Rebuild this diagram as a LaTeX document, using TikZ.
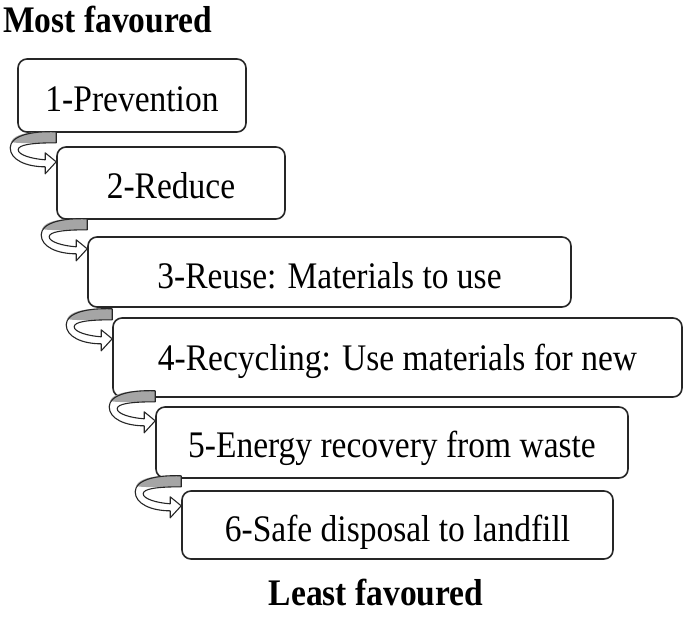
\documentclass[tikz,border=0pt]{standalone}
\usepackage{fontspec}
\setmainfont{Liberation Serif}
\usetikzlibrary{calc}
\definecolor{ribbon}{RGB}{165,165,165}
\newcommand{\tallertext}[1]{\scalebox{1}[1.12]{#1}}
\tikzset{
  stepbox/.style={draw=black!85, line width=1.6pt, rounded corners=9pt, rectangle, inner sep=0pt, fill=white},
  steptext/.style={anchor=base, inner sep=0pt, font=\fontsize{33.5}{40}\selectfont},
  headtext/.style={inner sep=0pt, font=\fontsize{33.5}{40}\selectfont\bfseries},
  uturn/.pic={
    \fill[ribbon] (0,0) .. controls (-25,-1) and (-42,2) .. (-45,10)
                  .. controls (-40,12) and (-25,11) .. (0,11) -- cycle;
    \draw[line width=1.1pt, line join=round, black!85]
      (0,0) .. controls (-25,-1) and (-46,4) .. (-46,16)
      .. controls (-46,28) and (-30,35) .. (-11,35)
      -- (-11,42) -- (0,30) -- (-11,21) -- (-11,28)
      .. controls (-25,27) and (-38,23) .. (-38,18)
      .. controls (-38,13) and (-25,11) .. (0,11) -- cycle;
  }
}
\begin{document}
\begin{tikzpicture}[x=1pt,y=-1pt]
\useasboundingbox (0,0) rectangle (685,625);
\fill[white] (0,0) rectangle (685,625);

\node[headtext, anchor=base west] (most) at (3,32) {\tallertext{Most favoured}};

\node[stepbox, minimum width=228pt, minimum height=73pt] (b1) at (132,95.5) {};
\node[stepbox, minimum width=228pt, minimum height=72pt] (b2) at (171,183) {};
\node[stepbox, minimum width=483pt, minimum height=70pt] (b3) at (329.5,272) {};
\node[stepbox, minimum width=569pt, minimum height=79pt] (b4) at (397.5,357.5) {};
\node[stepbox, minimum width=472pt, minimum height=71pt] (b5) at (392,442.5) {};
\node[stepbox, minimum width=431pt, minimum height=68pt] (b6) at (397.5,525) {};

\node[steptext] (t1) at (132,111) {\tallertext{1-Prevention}};
\node[steptext] (t2) at (171,198) {\tallertext{2-Reduce}};
\node[steptext] (t3) at (329.5,288) {\tallertext{3-Reuse: Materials to use}};
\node[steptext] (t4) at (397.5,370) {\tallertext{4-Recycling: Use materials for new}};
\node[steptext] (t5) at (392,457) {\tallertext{5-Energy recovery from waste}};
\node[steptext] (t6) at (397.5,541) {\tallertext{6-Safe disposal to landfill}};

\pic at ($(b2.west |- b1.south)+(0,-1)$) {uturn};
\pic at ($(b3.west |- b2.south)+(0,-1)$) {uturn};
\pic at ($(b4.west |- b3.south)+(0,1)$) {uturn};
\pic at ($(b5.west |- b4.south)+(0,-7)$) {uturn};
\pic at ($(b6.west |- b5.south)+(0,-3)$) {uturn};

\node[headtext, anchor=base] (least) at (376,605) {\tallertext{Least favoured}};
\end{tikzpicture}
\end{document}
